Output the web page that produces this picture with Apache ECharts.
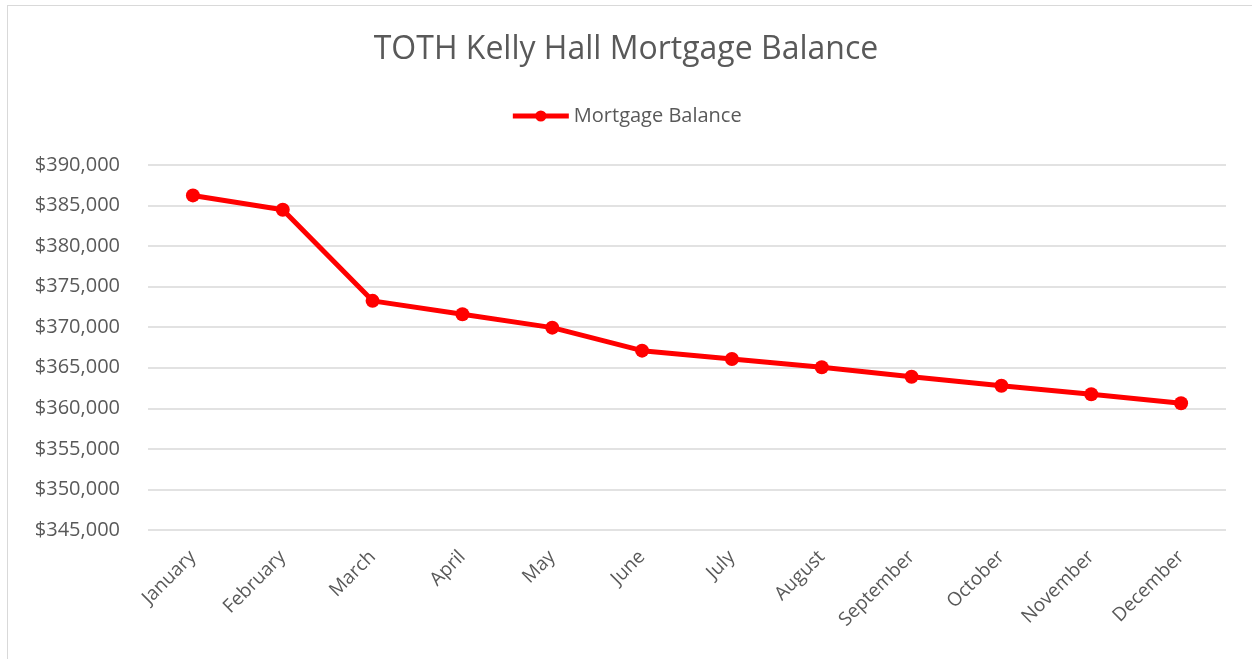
<!DOCTYPE html>
<html><head><meta charset="utf-8">
<script src="https://cdn.jsdelivr.net/npm/echarts@6/dist/echarts.min.js"></script>
<style>
html,body{margin:0;padding:0;background:#fff;}
#frame{position:absolute;left:7px;top:5px;width:1250px;height:660px;border:1px solid #d9d9d9;box-sizing:border-box;}
#c{position:absolute;left:0;top:0;width:1252px;height:659px;}
</style></head>
<body><div id="frame"></div><div id="c"></div>
<script>
const title = "TOTH Kelly Hall Mortgage Balance";
const seriesName = "Mortgage Balance";
const months = ["January","February","March","April","May","June","July","August","September","October","November","December"];
const balances = [386250, 384480, 373250, 371600, 369950, 367110, 366090, 365060, 363900, 362790, 361730, 360620];
const yMin = 345000, yMax = 390000, yStep = 5000;

const chart = echarts.init(document.getElementById('c'));
const font = '"Open Sans", sans-serif';
chart.setOption({
  animation:false,
  title:{text:title,left:'center',top:29,textStyle:{fontFamily:font,fontSize:32,fontWeight:'normal',color:'#595959'}},
  legend:{top:101,left:'center',itemWidth:56,itemHeight:14,itemGap:4,
    lineStyle:{width:5},
    textStyle:{fontFamily:font,fontSize:20,color:'#595959'},data:[seriesName]},
  grid:{left:148,right:26,top:165,bottom:129,containLabel:false},
  xAxis:{type:'category',data:months,boundaryGap:true,
    axisLine:{show:false},axisTick:{show:false},
    axisLabel:{rotate:45,fontFamily:font,fontSize:19,color:'#595959',margin:24}},
  yAxis:{type:'value',min:yMin,max:yMax,interval:yStep,
    axisLine:{show:false},axisTick:{show:false},
    splitLine:{lineStyle:{color:'#d9d9d9',width:1.5}},
    axisLabel:{fontFamily:font,fontSize:20,color:'#595959',margin:28,
      formatter:v=>'$'+v.toLocaleString('en-US')}},
  series:[{name:seriesName,type:'line',data:balances,symbol:'circle',symbolSize:14,
    lineStyle:{color:'#ff0000',width:5},itemStyle:{color:'#ff0000'}}]
});
</script></body></html>
